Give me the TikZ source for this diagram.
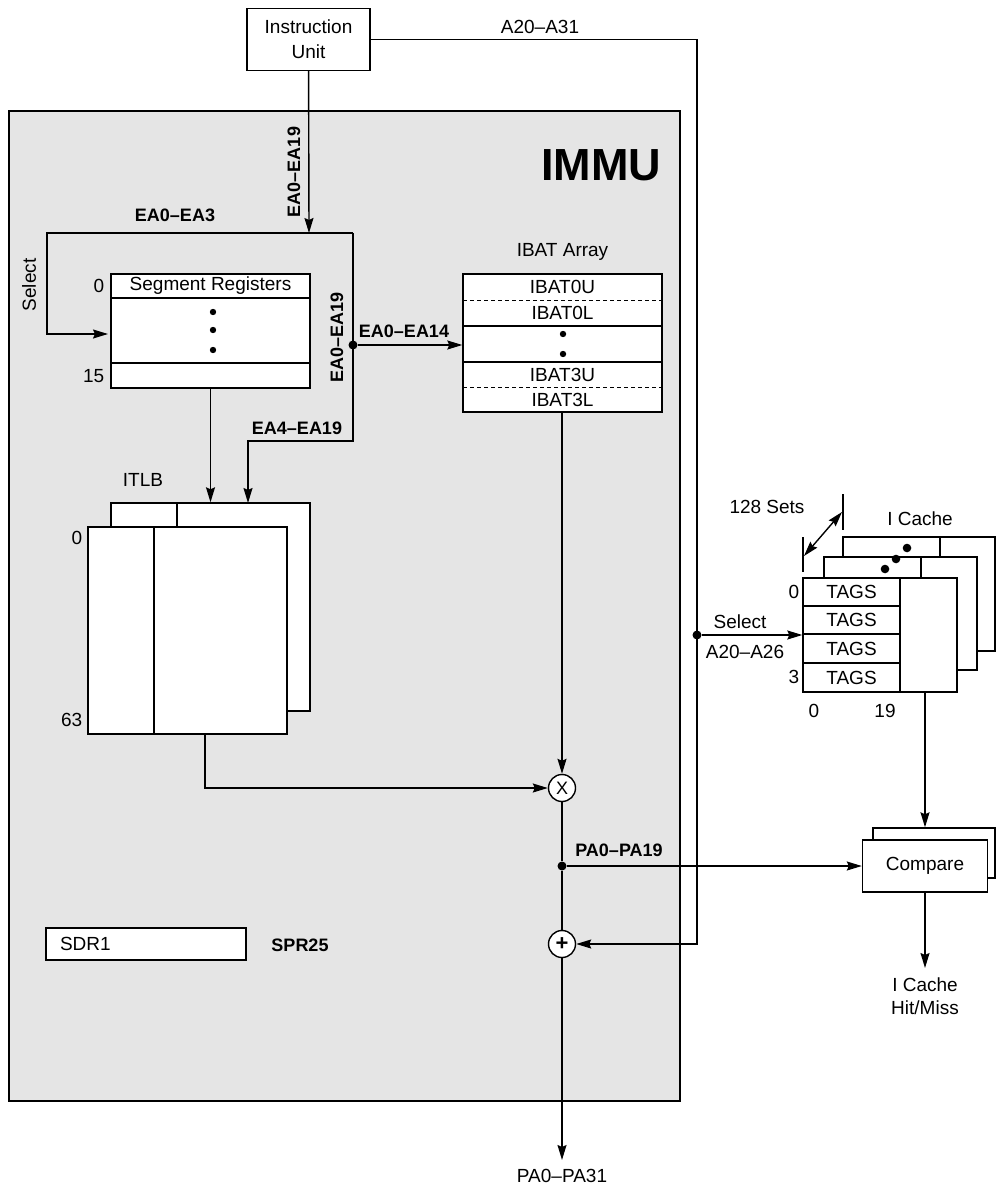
\documentclass[tikz,border=0pt]{standalone}
\usepackage{fontspec}
\setmainfont{Liberation Sans}
\usetikzlibrary{arrows.meta}
\definecolor{immugray}{gray}{0.9}
\tikzset{
  box/.style={draw, fill=white, inner sep=0pt},
  lab/.style={font=\fontsize{19}{23}\selectfont, inner sep=1pt},
  blab/.style={font=\fontsize{18}{21}\selectfont\bfseries, inner sep=1pt},
  arr/.style={-{Stealth[length=15pt,width=9pt,inset=2pt]}},
  jdot/.style={circle, fill=black, inner sep=0pt, minimum size=9pt},
  opcirc/.style={circle, draw, fill=white, inner sep=0pt, minimum size=27pt, font=\fontsize{18}{18}\selectfont},
}

\begin{document}
\begin{tikzpicture}[x=1pt,y=-1pt,line width=1.4pt]
\useasboundingbox (0,0) rectangle (997,1190);

%%%%%% IMMU frame
\draw [fill=immugray] (9,111) rectangle (680,1101);
\node [font=\fontsize{45}{45}\selectfont\bfseries] (immu) at (601,165) {IMMU};

%%%%%% Instruction unit
\node [box, lab, minimum width=123, minimum height=62, align=center] (iu) at (308.5,39.5) {Instruction\\[2pt]Unit};
\node [lab] (a2031) at (540,27) {A20–A31};

%%%%%% Segment registers
\node [box, minimum width=199, minimum height=114] (seg) at (210.5,331) {};
\draw (111,298) -- (310,298); \draw (111,363) -- (310,363);
\node [lab] (segname) at (210.5,286) {Segment Registers};
\node [lab, anchor=east] (seg0) at (106,286) {0}; \node [lab, anchor=east] (seg15) at (106,376) {15};
\fill (213,312) circle [radius=3.2]; \fill (213,330) circle [radius=3.2]; \fill (213,350) circle [radius=3.2];

%%%%%% IBAT array
\node [lab] (ibatname) at (562.5,252) {IBAT Array};
\node [box, minimum width=199, minimum height=138] (ibat) at (562.5,343) {};
\draw [line width=1pt, dash pattern=on 4pt off 3pt] (463,300) -- (662,300); \draw (463,326) -- (662,326);
\draw (463,362) -- (662,362); \draw [line width=1pt, dash pattern=on 4pt off 3pt] (463,387) -- (662,387);
\node [lab] (ibat0u) at (562.5,287) {IBAT0U}; \node [lab] (ibat0l) at (562.5,313) {IBAT0L};
\node [lab] (ibat3u) at (562.5,374.5) {IBAT3U}; \node [lab] (ibat3l) at (562.5,399.5) {IBAT3L};
\fill (563,334) circle [radius=3.2]; \fill (563,354) circle [radius=3.2];

%%%%%% ITLB
\node [box, minimum width=199, minimum height=208] (tlbback) at (210.5,607) {};
\draw (177,503) -- (177,711);
\node [box, minimum width=199, minimum height=207] (tlbfront) at (187.5,630.5) {};
\draw (154,527) -- (154,734);
\node [lab] (tlbname) at (143,480) {ITLB};
\node [lab, anchor=east] (tlb0) at (84,538) {0}; \node [lab, anchor=east] (tlb63) at (84,720) {63};

%%%%%% EA paths
\coordinate (eatop) at (309,233);
\coordinate (looptl) at (47,233); \coordinate (looptr) at (353,233); \coordinate (loopbr) at (353,441);
\coordinate (selin) at (108,334); \coordinate (tlbin) at (248,503);
\node [jdot] (jn) at (353,345) {};

\draw [arr] (iu) -- (eatop);
\draw [arr] (looptr) -- (looptl) |- (selin);
\draw [arr] (looptr) -- (loopbr) -| (tlbin);
\draw [arr] (jn) -- (ibat.west |- jn);
\draw [arr] (seg.south) -- (seg.south |- tlbback.north);

\node [blab] at (175,215) {EA0–EA3};
\node [blab, rotate=90] at (294,172) {EA0–EA19};
\node [blab, rotate=90] at (337,337) {EA0–EA19};
\node [blab] at (404,331) {EA0–EA14};
\node [blab] at (297,428) {EA4–EA19};
\node [lab, rotate=90] at (29,285) {Select};

%%%%%% X and + 
\node [opcirc] (mul) at (562,788) {X};
\node [opcirc, font=\fontsize{22}{22}\selectfont\bfseries] (add) at (562,944) {+};
\node [jdot] (pajn) at (562,866) {};
\coordinate (tlbout) at (205,734);

\draw [arr] (tlbout) |- (mul);
\draw [arr] (ibat.south -| mul) -- (mul);
\draw (mul) -- (pajn) -- (add);
\node [blab] at (619,850) {PA0–PA19};

\node [lab, anchor=north, inner sep=0pt] (paout) at (562,1169) {PA0–PA31};
\draw [arr, shorten >=9pt] (add) -- (paout.north);

%%%%%% SDR1
\node [box, lab, minimum width=200, minimum height=32, text width=172, align=left] (sdr) at (146,944) {SDR1};
\node [blab] (spr) at (300,945) {SPR25};

%%%%%% I cache
\node [box, minimum width=152, minimum height=114] (cback) at (919,594) {};
\draw (940,537) -- (940,651);
\node [box, minimum width=153, minimum height=113] (cmid) at (900.5,613.5) {};
\draw (921,557) -- (921,670);
\node [box, minimum width=154, minimum height=114] (cfront) at (880,635) {};
\draw (900,578) -- (900,692);
\draw (803,606) -- (900,606); \draw (803,634) -- (900,634); \draw (803,663) -- (900,663);
\node [lab] (tag0) at (851.5,592) {TAGS}; \node [lab] (tag1) at (851.5,620) {TAGS};
\node [lab] (tag2) at (851.5,648.5) {TAGS}; \node [lab] (tag3) at (851.5,677.5) {TAGS};
\fill (885,569) circle [radius=4.3]; \fill (896,559) circle [radius=4.3]; \fill (907,548) circle [radius=4.3];

\node [lab, anchor=east] (row0) at (801,592) {0}; \node [lab, anchor=east] (row3) at (801,677) {3};
\node [lab] (col0) at (814,711) {0}; \node [lab] (col19) at (885,711) {19};
\node [lab] (icname) at (920,519) {I Cache};

\draw (803,537) -- (803,572); \draw (843,494) -- (843,530);
\coordinate (setl) at (804,556); \coordinate (setr) at (842,512);
\draw [{Stealth[length=15pt,width=9pt,inset=2pt]}-{Stealth[length=15pt,width=9pt,inset=2pt]}] (setl) -- (setr);
\node [lab] (sets) at (767,507) {128 Sets};

%%%%%% Compare
\node [box, minimum width=122, minimum height=50] (cmpback) at (934,853) {};
\node [box, lab, minimum width=125, minimum height=52] (cmp) at (925,866) {Compare};
\node [lab, anchor=north, inner sep=0pt, align=center] (hit) at (925,977) {I Cache\\Hit/Miss};
\coordinate (cacheout) at (925,692);

\draw [arr] (cacheout) -- (cacheout |- cmpback.north);
\draw [arr] (pajn) -- (cmp.west);
\draw [arr, shorten >=9pt] (cmp.south) -- (cmp.south |- hit.north);

%%%%%% A20-A31 bus
\coordinate (abus) at (697,944);
\node [jdot] (seljn) at (697,635) {};
\draw [arr] (iu.east) -| (abus) -- (add);
\draw [arr] (seljn) -- (cfront.west);
\node [lab] (selname) at (740,622) {Select};
\node [lab] (a2026) at (745,652) {A20–A26};

\end{tikzpicture}
\end{document}
